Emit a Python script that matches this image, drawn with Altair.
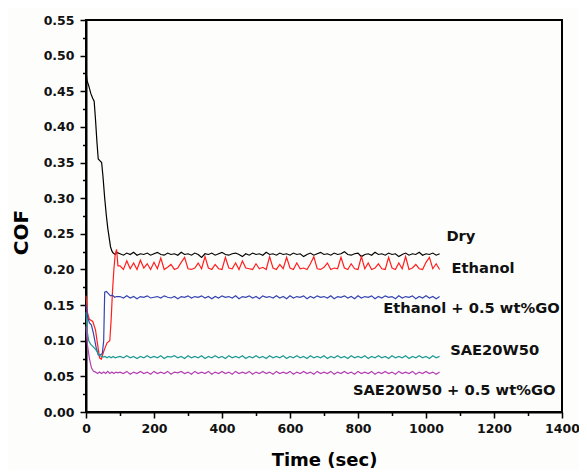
import altair as alt
import pandas as pd

SERIES = ["Dry", "Ethanol", "Ethanol + 0.5 wt%GO", "SAE20W50", "SAE20W50 + 0.5 wt%GO"]
COLORS = ["#000000", "#ff1f1f", "#3344b0", "#1e9994", "#b23fb2"]

# shared steady-state sampling grid (seconds)
T_STEADY = list(range(100, 1041, 10))

# ---- Dry ----
dry_t0 = [0, 3, 8, 14, 20, 24, 28, 32, 36, 42, 46, 50, 55, 60, 64, 68, 72, 76, 80, 86, 90]
dry_v0 = [0.478, 0.465, 0.458, 0.447, 0.440, 0.436, 0.410, 0.380, 0.355, 0.352, 0.350,
          0.330, 0.300, 0.275, 0.258, 0.245, 0.232, 0.226, 0.223, 0.221, 0.224]
dry_ss = [0.222, 0.220, 0.223, 0.221, 0.224, 0.220, 0.222, 0.221, 0.223, 0.220,
          0.222, 0.224, 0.221, 0.220, 0.223, 0.221, 0.222, 0.220, 0.224, 0.221,
          0.222, 0.220, 0.223, 0.221, 0.217, 0.222, 0.221, 0.223, 0.220, 0.222,
          0.224, 0.221, 0.220, 0.222, 0.223, 0.221, 0.218, 0.222, 0.220, 0.223,
          0.221, 0.222, 0.220, 0.224, 0.221, 0.222, 0.220, 0.223, 0.221, 0.222,
          0.220, 0.223, 0.221, 0.222, 0.218, 0.221, 0.223, 0.220, 0.222, 0.224,
          0.221, 0.222, 0.220, 0.223, 0.221, 0.222, 0.225, 0.221, 0.220, 0.222,
          0.223, 0.218, 0.221, 0.222, 0.220, 0.224, 0.221, 0.222, 0.220, 0.223,
          0.221, 0.222, 0.218, 0.221, 0.223, 0.220, 0.222, 0.221, 0.224, 0.220,
          0.222, 0.221, 0.223, 0.220, 0.222]

# ---- Ethanol ----
eth_t0 = [0, 4, 10, 20, 28, 34, 40, 45, 50, 56, 62, 70, 74, 78, 82, 86, 90, 94]
eth_v0 = [0.163, 0.140, 0.130, 0.127, 0.115, 0.095, 0.076, 0.074, 0.082, 0.090,
          0.097, 0.100, 0.130, 0.170, 0.200, 0.222, 0.228, 0.205]
eth_ss = [0.205, 0.200, 0.212, 0.201, 0.209, 0.200, 0.213, 0.202, 0.208, 0.200,
          0.210, 0.201, 0.216, 0.200, 0.203, 0.207, 0.200, 0.202, 0.210, 0.217,
          0.201, 0.200, 0.202, 0.209, 0.201, 0.218, 0.202, 0.200, 0.207, 0.201,
          0.200, 0.217, 0.202, 0.201, 0.209, 0.200, 0.212, 0.202, 0.201, 0.200,
          0.208, 0.201, 0.203, 0.200, 0.218, 0.202, 0.200, 0.207, 0.201, 0.217,
          0.202, 0.200, 0.209, 0.201, 0.202, 0.200, 0.208, 0.218, 0.201, 0.200,
          0.203, 0.209, 0.200, 0.202, 0.201, 0.217, 0.202, 0.200, 0.208, 0.201,
          0.200, 0.218, 0.201, 0.209, 0.200, 0.202, 0.208, 0.201, 0.200, 0.217,
          0.202, 0.200, 0.209, 0.201, 0.218, 0.200, 0.202, 0.207, 0.201, 0.200,
          0.210, 0.217, 0.201, 0.208, 0.200]

# ---- Ethanol + 0.5 wt%GO ----
ego_t0 = [0, 4, 10, 16, 22, 30, 36, 42, 48, 52, 55, 60, 66, 72, 78, 84, 90]
ego_v0 = [0.150, 0.135, 0.125, 0.122, 0.110, 0.090, 0.080, 0.080, 0.082, 0.100,
          0.168, 0.169, 0.166, 0.163, 0.164, 0.161, 0.162]
ego_ss = [0.162, 0.160, 0.163, 0.160, 0.162, 0.159, 0.162, 0.161, 0.163, 0.160,
          0.161, 0.162, 0.160, 0.163, 0.161, 0.160, 0.162, 0.159, 0.162, 0.161,
          0.163, 0.160, 0.162, 0.161, 0.163, 0.160, 0.162, 0.159, 0.162, 0.160,
          0.163, 0.161, 0.162, 0.160, 0.163, 0.159, 0.162, 0.161, 0.163, 0.160,
          0.162, 0.159, 0.163, 0.161, 0.162, 0.160, 0.163, 0.160, 0.162, 0.159,
          0.163, 0.160, 0.162, 0.161, 0.163, 0.159, 0.162, 0.160, 0.163, 0.161,
          0.162, 0.160, 0.163, 0.159, 0.162, 0.161, 0.163, 0.160, 0.162, 0.159,
          0.163, 0.160, 0.162, 0.161, 0.163, 0.159, 0.162, 0.160, 0.163, 0.161,
          0.162, 0.159, 0.163, 0.160, 0.162, 0.161, 0.163, 0.159, 0.162, 0.160,
          0.163, 0.160, 0.162, 0.159, 0.162]

# ---- SAE20W50 ----
sae_t0 = [0, 3, 8, 14, 20, 28, 36, 42, 50, 56, 62, 68, 74, 80, 86, 92]
sae_v0 = [0.140, 0.115, 0.100, 0.095, 0.092, 0.088, 0.082, 0.079, 0.077, 0.078,
          0.076, 0.078, 0.076, 0.078, 0.076, 0.077]
sae_ss = [0.078, 0.076, 0.079, 0.076, 0.078, 0.075, 0.078, 0.076, 0.079, 0.076,
          0.078, 0.076, 0.079, 0.075, 0.078, 0.077, 0.079, 0.076, 0.078, 0.075,
          0.079, 0.076, 0.078, 0.076, 0.079, 0.075, 0.078, 0.076, 0.079, 0.076,
          0.078, 0.075, 0.079, 0.076, 0.078, 0.076, 0.079, 0.075, 0.078, 0.076,
          0.079, 0.076, 0.078, 0.075, 0.079, 0.076, 0.078, 0.076, 0.079, 0.075,
          0.078, 0.076, 0.079, 0.076, 0.078, 0.075, 0.079, 0.076, 0.078, 0.076,
          0.079, 0.075, 0.078, 0.076, 0.079, 0.076, 0.078, 0.075, 0.079, 0.076,
          0.078, 0.076, 0.079, 0.075, 0.078, 0.076, 0.079, 0.076, 0.078, 0.075,
          0.079, 0.076, 0.078, 0.076, 0.079, 0.075, 0.078, 0.076, 0.079, 0.076,
          0.078, 0.075, 0.079, 0.076, 0.078]

# ---- SAE20W50 + 0.5 wt%GO ----
sgo_t0 = [0, 4, 10, 16, 22, 28, 34, 40, 46, 52, 58, 64, 70, 76, 82, 88, 94]
sgo_v0 = [0.120, 0.095, 0.075, 0.062, 0.057, 0.056, 0.054, 0.056, 0.054, 0.056,
          0.054, 0.057, 0.054, 0.056, 0.054, 0.056, 0.055]
sgo_ss = [0.056, 0.054, 0.057, 0.053, 0.056, 0.054, 0.057, 0.054, 0.056, 0.053,
          0.057, 0.054, 0.056, 0.054, 0.057, 0.053, 0.056, 0.055, 0.057, 0.054,
          0.056, 0.053, 0.057, 0.054, 0.056, 0.054, 0.057, 0.053, 0.056, 0.054,
          0.057, 0.054, 0.056, 0.053, 0.057, 0.054, 0.056, 0.054, 0.057, 0.053,
          0.056, 0.054, 0.057, 0.054, 0.056, 0.053, 0.057, 0.054, 0.056, 0.054,
          0.057, 0.053, 0.056, 0.054, 0.057, 0.054, 0.056, 0.053, 0.057, 0.054,
          0.056, 0.054, 0.057, 0.053, 0.056, 0.054, 0.057, 0.054, 0.056, 0.053,
          0.057, 0.054, 0.056, 0.054, 0.057, 0.053, 0.056, 0.054, 0.057, 0.054,
          0.056, 0.053, 0.057, 0.054, 0.056, 0.054, 0.057, 0.053, 0.056, 0.054,
          0.057, 0.054, 0.056, 0.053, 0.056]

# ---- curve labels (data coordinates) ----
LABEL_TEXT = SERIES
LABEL_X = [1060, 1075, 874, 1071, 785]
LABEL_Y = [0.2458, 0.2001, 0.1441, 0.0853, 0.029]

X_TICKS = [0, 200, 400, 600, 800, 1000, 1200, 1400]
X_MINOR = [100, 300, 500, 700, 900, 1100, 1300]
Y_TICKS = [0.0, 0.05, 0.1, 0.15, 0.2, 0.25, 0.3, 0.35, 0.4, 0.45, 0.5, 0.55]
Y_MINOR = [0.025, 0.075, 0.125, 0.175, 0.225, 0.275, 0.325, 0.375, 0.425, 0.475, 0.525]

parts = [
    (dry_t0, dry_v0, dry_ss),
    (eth_t0, eth_v0, eth_ss),
    (ego_t0, ego_v0, ego_ss),
    (sae_t0, sae_v0, sae_ss),
    (sgo_t0, sgo_v0, sgo_ss),
]
rows = []
for name, (t0, v0, ss) in zip(SERIES, parts):
    ts = t0 + T_STEADY
    vs = v0 + ss
    for k, (t, v) in enumerate(zip(ts, vs)):
        rows.append({"series": name, "t": t, "cof": v, "k": k})
df = pd.DataFrame(rows)

labels_df = pd.DataFrame({"text": LABEL_TEXT, "x": LABEL_X, "y": LABEL_Y})

FONT = "DejaVu Sans"

x_scale = alt.Scale(domain=[0, 1400], nice=False)
y_scale = alt.Scale(domain=[0, 0.55], nice=False)

x_axis = alt.Axis(
    orient="bottom",
    values=X_TICKS,
    format="d",
    tickSize=6,
    title="Time (sec)",
    titleFontSize=18,
    titleX=238,
    titleY=53,
    titleBaseline="alphabetic",
    labelPadding=4,
    labelFlush=False,
    labelOverlap=False,
)
y_axis = alt.Axis(
    orient="left",
    values=Y_TICKS,
    format=".2f",
    tickSize=6,
    title="COF",
    titleFontSize=20,
    titleX=-65,
    titleY=212,
    titleAngle=270,
    titleAlign="center",
    titleBaseline="middle",
    labelPadding=6,
    labelFlush=False,
    labelOverlap=False,
)

lines = alt.Chart(df).mark_line(strokeWidth=1.2, interpolate="linear").encode(
    x=alt.X("t:Q", scale=x_scale, axis=x_axis),
    y=alt.Y("cof:Q", scale=y_scale, axis=y_axis),
    color=alt.Color("series:N", scale=alt.Scale(domain=SERIES, range=COLORS), legend=None),
    detail="series:N",
    order="k:Q",
)

# invisible layer that only carries the minor-tick axes
minor = alt.Chart(labels_df).mark_point(opacity=0).encode(
    x=alt.X("x:Q", scale=x_scale, axis=alt.Axis(
        orient="bottom", values=X_MINOR, labels=False, domain=False, tickSize=3.5, title=None)),
    y=alt.Y("y:Q", scale=y_scale, axis=alt.Axis(
        orient="left", values=Y_MINOR, labels=False, domain=False, tickSize=3.5, title=None)),
)

labels = alt.Chart(labels_df).mark_text(
    align="left", baseline="middle", font=FONT, fontWeight="bold", fontSize=14.7, color="#111111"
).encode(
    x=alt.X("x:Q", scale=x_scale, axis=None),
    y=alt.Y("y:Q", scale=y_scale, axis=None),
    text="text:N",
)

chart = alt.layer(lines, minor, labels).resolve_axis(
    x="independent", y="independent"
).properties(
    width=476,
    height=392,
    padding={"left": 78, "top": 12, "right": 17, "bottom": 58},
    autosize=alt.AutoSizeParams(type="none"),
    background="#fdfdfb",
).configure_view(
    stroke="#000000", strokeWidth=2
).configure_axis(
    grid=False,
    domainColor="#000000",
    domainWidth=2,
    tickColor="#000000",
    tickWidth=1.5,
    labelFont=FONT,
    labelFontWeight="bold",
    labelFontSize=12.5,
    labelColor="#111111",
    titleFont=FONT,
    titleFontWeight="bold",
    titleColor="#000000",
)

chart.save("out.html", embed_options={"renderer": "svg", "actions": False})
